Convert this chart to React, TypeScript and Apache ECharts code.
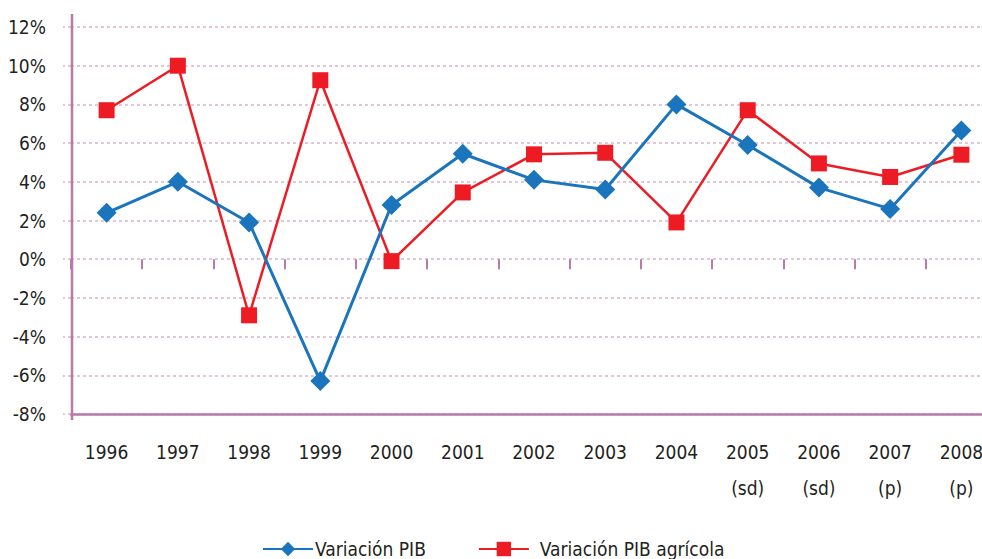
import React, { useEffect, useRef } from "react";
import * as echarts from "echarts";

const categories = ["1996", "1997", "1998", "1999", "2000", "2001", "2002", "2003", "2004", "2005\n(sd)", "2006\n(sd)", "2007\n(p)", "2008\n(p)"];
const variacionPIB = [2.4, 4.0, 1.9, -6.3, 2.8, 5.45, 4.1, 3.6, 8.0, 5.9, 3.7, 2.6, 6.65];
const variacionPIBAgricola = [7.7, 10.0, -2.9, 9.25, -0.1, 3.45, 5.42, 5.5, 1.9, 7.7, 4.95, 4.25, 5.4];
const yTicks = { min: -8, max: 12, interval: 2 };

const FONT = '"Liberation Sans Narrow", "DejaVu Sans Condensed", "Arial Narrow", "Liberation Sans", sans-serif';
const PURPLE = "#b87aa9";
const GRID = "#d9b5d0";
const BLUE = "#1b75bc";
const RED = "#ed1c24";
const TEXT = "#231f20";

export default function App() {
  const ref = useRef<HTMLDivElement>(null);
  useEffect(() => {
    if (!ref.current) return;
    const chart = echarts.init(ref.current, undefined, { renderer: "svg" });
    chart.setOption({
      animation: false,
      backgroundColor: "#ffffff",
      textStyle: { fontFamily: FONT },
      grid: { left: 71, top: 27, width: 926, height: 387, containLabel: false },
      legend: {
        left: 257,
        top: 534,
        itemWidth: 50,
        itemHeight: 18,
        itemGap: 52,
        textStyle: { fontFamily: FONT, fontSize: 19, color: TEXT, lineHeight: 20 },
        data: [
          { name: "Variación PIB", textStyle: { padding: [0, 0, 0, -3] } },
          { name: "Variación PIB agrícola", textStyle: { padding: [0, 0, 0, 6] } },
        ],
      },
      xAxis: [
        {
          type: "category",
          data: categories,
          position: "bottom",
          boundaryGap: true,
          axisLine: { onZero: false, show: true, lineStyle: { color: PURPLE, width: 2.5 } },
          axisTick: { show: false },
          axisLabel: { fontFamily: FONT, fontSize: 19, color: TEXT, margin: 20, lineHeight: 36 },
          splitLine: { show: false },
        },
        {
          type: "category",
          data: categories,
          position: "bottom",
          boundaryGap: true,
          axisLine: { onZero: true, show: false },
          axisTick: { show: true, length: 10, lineStyle: { color: PURPLE, width: 2 } },
          axisLabel: { show: false },
          splitLine: { show: false },
        },
      ],
      yAxis: {
        type: "value",
        min: yTicks.min,
        max: yTicks.max,
        interval: yTicks.interval,
        axisLine: { show: false },
        axisTick: { show: true, length: 8, lineStyle: { color: GRID, type: [3, 3], width: 1.5 } },
        axisLabel: { fontFamily: FONT, fontSize: 19, color: TEXT, margin: 25, formatter: (v: number) => `${v}%` },
        splitLine: { show: true, lineStyle: { color: GRID, type: [3, 3], width: 1.5 } },
      },
      graphic: [
        { type: "line", shape: { x1: 72, y1: 14, x2: 72, y2: 420 }, style: { stroke: PURPLE, lineWidth: 2.5 }, z: 10 },
      ],
      series: [
        {
          name: "Variación PIB",
          type: "line",
          xAxisIndex: 0,
          data: variacionPIB,
          symbol: "diamond",
          symbolSize: 20,
          itemStyle: { color: BLUE },
          lineStyle: { color: BLUE, width: 3 },
          z: 4,
        },
        {
          name: "Variación PIB agrícola",
          type: "line",
          xAxisIndex: 0,
          data: variacionPIBAgricola,
          symbol: "rect",
          symbolSize: 16,
          itemStyle: { color: RED },
          lineStyle: { color: RED, width: 2.5 },
          z: 3,
        },
      ],
    });
    return () => chart.dispose();
  }, []);
  return (
    <div style={{ position: "absolute", left: 0, top: 0, width: 982, height: 559, overflow: "hidden" }}>
      <div ref={ref} style={{ width: 1000, height: 559 }} />
    </div>
  );
}
